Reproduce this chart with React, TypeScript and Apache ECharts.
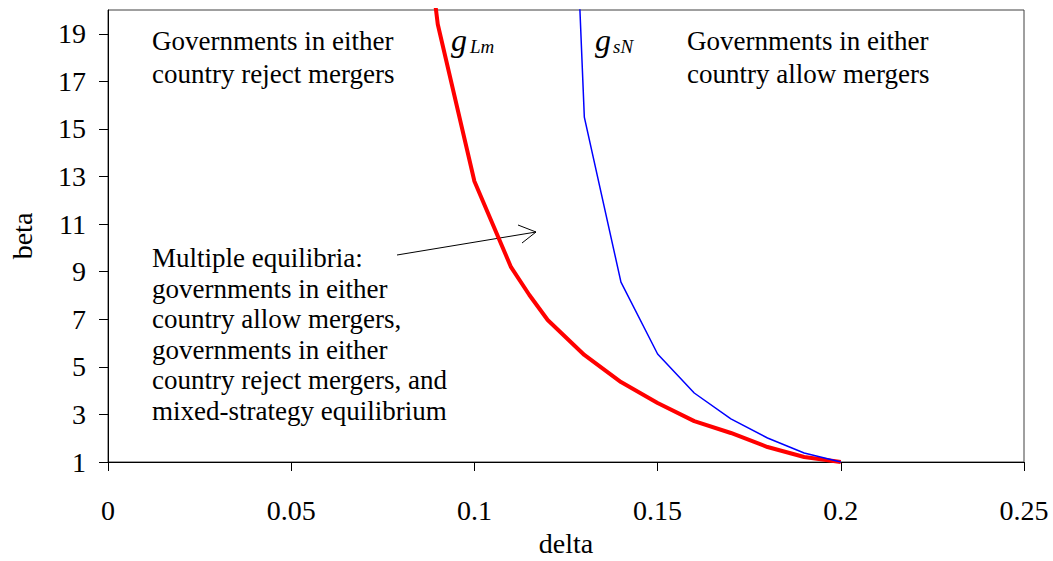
import React, { useEffect, useRef } from "react";
import * as echarts from "echarts";

const deltaTicks = [0, 0.05, 0.1, 0.15, 0.2, 0.25];
const betaTicks = [1, 3, 5, 7, 9, 11, 13, 15, 17, 19];

// g_Lm (red, thick)
const gLmDelta = [0.08, 0.09, 0.1, 0.11, 0.115, 0.12, 0.13, 0.14, 0.15, 0.16, 0.17, 0.18, 0.19, 0.2];
const gLmBeta = [32, 19.4, 12.8, 9.19, 8.02, 6.97, 5.5, 4.36, 3.48, 2.72, 2.22, 1.63, 1.21, 1.0];

// g_sN (blue, thin)
const gsNDelta = [0.12, 0.13, 0.14, 0.15, 0.16, 0.17, 0.18, 0.19, 0.2];
const gsNBeta = [53, 15.5, 8.56, 5.54, 3.9, 2.81, 2.01, 1.38, 1.0];

const FONT = '"Liberation Serif", "Times New Roman", serif';

export default function App() {
  const ref = useRef<HTMLDivElement>(null);
  useEffect(() => {
    const el = ref.current;
    if (!el) return;
    const chart = echarts.init(el, null, { renderer: "svg" });
    const textStyle = (text: string, size: number, lh: number) => ({
      text,
      fontFamily: FONT,
      fontSize: size,
      lineHeight: lh,
      fill: "#000",
      align: "left",
      verticalAlign: "top",
    });
    chart.setOption({
      animation: false,
      backgroundColor: "#fff",
      grid: {
        left: 108,
        right: 29,
        top: 10,
        bottom: 99,
        containLabel: false,
        outerBoundsMode: "none",
        show: true,
        borderColor: "#404040",
        borderWidth: 1,
        backgroundColor: "transparent",
      },
      xAxis: {
        type: "value",
        min: 0,
        max: 0.25,
        interval: 0.05,
        name: "delta",
        nameLocation: "middle",
        nameGap: 67,
        nameTextStyle: { fontFamily: FONT, fontSize: 28, color: "#000" },
        axisLine: { show: true, onZero: false, lineStyle: { color: "#000", width: 1 } },
        axisTick: { show: true, inside: false, length: 9, lineStyle: { color: "#000" } },
        axisLabel: {
          fontFamily: FONT,
          fontSize: 28,
          color: "#000",
          margin: 34,
          formatter: (v: number) => {
            const t = deltaTicks.find((d) => Math.abs(d - v) < 1e-9);
            return t === undefined ? "" : String(t);
          },
        },
        splitLine: { show: false },
      },
      yAxis: {
        type: "value",
        min: 1,
        max: 20,
        name: "beta",
        nameLocation: "middle",
        nameGap: 72,
        nameRotate: 90,
        nameTextStyle: { fontFamily: FONT, fontSize: 28, color: "#000" },
        axisLine: { show: true, onZero: false, lineStyle: { color: "#000", width: 1 } },
        axisTick: { show: true, inside: false, length: 9, lineStyle: { color: "#000" }, customValues: betaTicks },
        axisLabel: {
          fontFamily: FONT,
          fontSize: 28,
          color: "#000",
          margin: 22,
          customValues: betaTicks,
        },
        splitLine: { show: false },
      },
      series: [
        {
          type: "line",
          name: "gLm",
          data: gLmDelta.map((d, i) => [d, gLmBeta[i]]),
          showSymbol: false,
          clip: true,
          lineStyle: { color: "#ff0000", width: 4 },
          itemStyle: { color: "#ff0000" },
          z: 3,
        },
        {
          type: "line",
          name: "gsN",
          data: gsNDelta.map((d, i) => [d, gsNBeta[i]]),
          showSymbol: false,
          clip: true,
          lineStyle: { color: "#0000ff", width: 1.5 },
          itemStyle: { color: "#0000ff" },
          z: 4,
        },
      ],
      graphic: [
        { type: "text", left: 152, top: 24, style: textStyle("Governments in either\ncountry reject mergers", 27, 33) },
        { type: "text", left: 687, top: 24, style: textStyle("Governments in either\ncountry allow mergers", 27, 33) },
        {
          type: "text",
          left: 152,
          top: 243,
          style: textStyle(
            "Multiple equilibria:\ngovernments in either\ncountry allow mergers,\ngovernments in either\ncountry reject mergers, and\nmixed-strategy equilibrium",
            27,
            30.5
          ),
        },
        { type: "text", left: 451, top: 24, style: { ...textStyle("g", 32, 32), fontStyle: "italic" } },
        { type: "text", left: 470, top: 36, style: { ...textStyle("Lm", 19, 20), fontStyle: "italic" } },
        { type: "text", left: 595, top: 24, style: { ...textStyle("g", 32, 32), fontStyle: "italic" } },
        { type: "text", left: 613, top: 36, style: { ...textStyle("sN", 19, 20), fontStyle: "italic" } },
        {
          type: "line",
          shape: { x1: 397, y1: 255, x2: 536, y2: 232 },
          style: { stroke: "#000", lineWidth: 1 },
        },
        {
          type: "polyline",
          shape: { points: [[518, 225], [536, 232], [522, 243]] },
          style: { stroke: "#000", lineWidth: 1, fill: null },
        },
      ],
    });
    return () => chart.dispose();
  }, []);
  return (
    <div
      ref={ref}
      style={{ position: "absolute", left: 0, top: 0, width: 1053, height: 561 }}
    />
  );
}
